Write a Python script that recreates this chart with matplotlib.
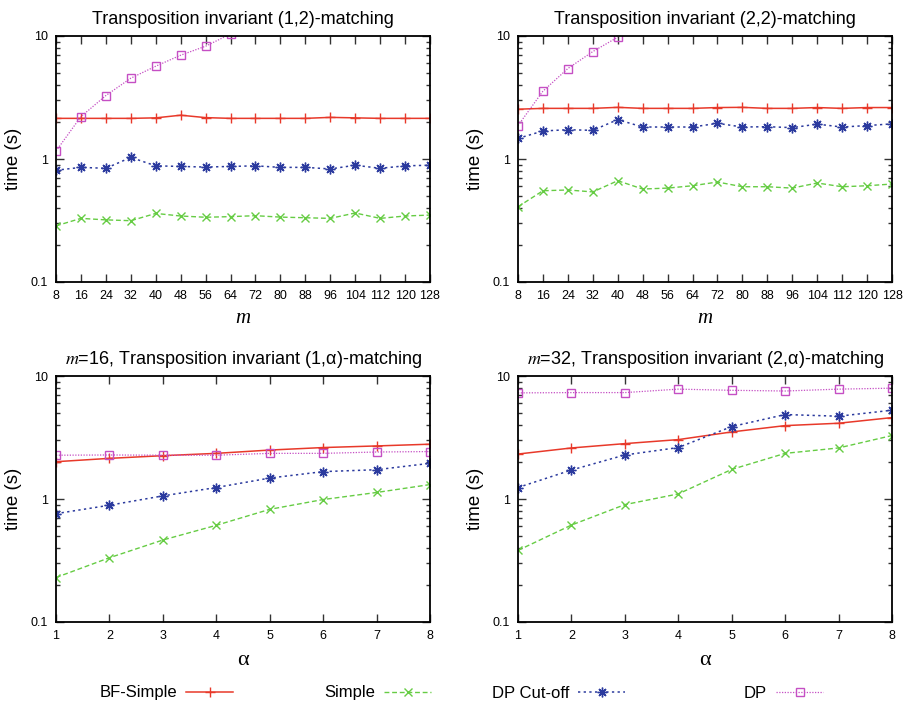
import matplotlib
matplotlib.use("Agg")
import matplotlib.pyplot as plt
from matplotlib.lines import Line2D
from matplotlib.ticker import LogLocator, NullFormatter, FixedLocator, FixedFormatter

plt.rcParams['font.family'] = ['Liberation Sans', 'DejaVu Sans']
plt.rcParams['mathtext.fontset'] = 'stix'

# ---------------- data ----------------
m_values = [8, 16, 24, 32, 40, 48, 56, 64, 72, 80, 88, 96, 104, 112, 120, 128]
alpha_values = [1, 2, 3, 4, 5, 6, 7, 8]

# (1,2)-matching vs m
tl_bf = [2.14, 2.14, 2.14, 2.14, 2.16, 2.27, 2.17, 2.14, 2.14, 2.14, 2.14, 2.18, 2.16, 2.14, 2.14, 2.14]
tl_simple = [0.286, 0.329, 0.32, 0.315, 0.361, 0.344, 0.336, 0.34, 0.346, 0.337, 0.333, 0.329, 0.364, 0.329, 0.344, 0.35]
tl_dpcut = [0.81, 0.855, 0.84, 1.03, 0.88, 0.87, 0.86, 0.87, 0.88, 0.855, 0.855, 0.83, 0.89, 0.84, 0.88, 0.89]
tl_dp_m = [8, 16, 24, 32, 40, 48, 56, 64]
tl_dp = [1.16, 2.21, 3.28, 4.54, 5.68, 6.98, 8.26, 10.4]

# (2,2)-matching vs m
tr_bf = [2.54, 2.58, 2.58, 2.58, 2.63, 2.58, 2.58, 2.58, 2.62, 2.63, 2.58, 2.58, 2.62, 2.58, 2.62, 2.62]
tr_simple = [0.409, 0.552, 0.56, 0.54, 0.666, 0.57, 0.58, 0.606, 0.65, 0.595, 0.595, 0.58, 0.638, 0.595, 0.606, 0.626]
tr_dpcut = [1.47, 1.69, 1.73, 1.71, 2.09, 1.82, 1.82, 1.82, 1.95, 1.82, 1.83, 1.80, 1.92, 1.82, 1.87, 1.93]
tr_dp_m = [8, 16, 24, 32, 40]
tr_dp = [1.87, 3.56, 5.44, 7.47, 9.78]

# m=16, (1,alpha)-matching
bl_bf = [2.01, 2.14, 2.25, 2.35, 2.5, 2.62, 2.7, 2.79]
bl_simple = [0.23, 0.333, 0.464, 0.611, 0.824, 0.99, 1.13, 1.31]
bl_dpcut = [0.76, 0.89, 1.06, 1.24, 1.48, 1.67, 1.73, 1.95]
bl_dp = [2.27, 2.28, 2.27, 2.27, 2.35, 2.35, 2.41, 2.43]

# m=32, (2,alpha)-matching
br_bf = [2.32, 2.6, 2.82, 3.04, 3.51, 3.95, 4.13, 4.59]
br_simple = [0.382, 0.614, 0.9, 1.1, 1.74, 2.35, 2.6, 3.28]
br_dpcut = [1.24, 1.72, 2.28, 2.62, 3.88, 4.86, 4.71, 5.27]
br_dp = [7.29, 7.33, 7.33, 7.82, 7.65, 7.55, 7.82, 7.96]

series_names = ['BF-Simple', 'Simple', 'DP Cut-off', 'DP']
ytick_vals = [0.1, 1, 10]
ytick_labels = ['0.1', '1', '10']

# ---------------- styles ----------------
C_RED = '#e8392a'
C_GREEN = '#66cc44'
C_BLUE = '#2b3a9e'
C_MAG = '#c54fc4'
styles = {
    'BF-Simple': dict(color=C_RED, ls='-', marker='+', ms=7, mew=1.0, lw=1.1),
    'Simple': dict(color=C_GREEN, ls=(0, (3.5, 2)), marker='x', ms=5.5, mew=1.0, lw=1.0),
    'DP Cut-off': dict(color=C_BLUE, ls=(0, (1.5, 2.2)), marker=(8, 2, 0), ms=7, mew=1.0, lw=1.1),
    'DP': dict(color=C_MAG, ls=(0, (1, 1.2)), marker='s', ms=6, mew=1.0, lw=0.9,
               mfc='none'),
}

W, H = 909, 705
fig = plt.figure(figsize=(W / 100, H / 100), dpi=100)

def ax_rect(x0, y0, x1, y1):
    return [x0 / W, 1 - y1 / H, (x1 - x0) / W, (y1 - y0) / H]

axes = [
    fig.add_axes(ax_rect(56, 36, 430, 282)),
    fig.add_axes(ax_rect(518, 36, 892, 282)),
    fig.add_axes(ax_rect(56, 376, 430, 622)),
    fig.add_axes(ax_rect(518, 376, 892, 622)),
]

panels = [
    (m_values, [tl_bf, tl_simple, tl_dpcut], tl_dp_m, tl_dp,
     'Transposition invariant (1,2)-matching', 'm'),
    (m_values, [tr_bf, tr_simple, tr_dpcut], tr_dp_m, tr_dp,
     'Transposition invariant (2,2)-matching', 'm'),
    (alpha_values, [bl_bf, bl_simple, bl_dpcut], alpha_values, bl_dp,
     '$m$=16, Transposition invariant (1,α)-matching', 'α'),
    (alpha_values, [br_bf, br_simple, br_dpcut], alpha_values, br_dp,
     '$m$=32, Transposition invariant (2,α)-matching', 'α'),
]

for ax, (xs, ys3, dpx, dpy, title, xlab) in zip(axes, panels):
    for name, ys in zip(series_names[:3], ys3):
        ax.plot(xs, ys, **styles[name])
    ax.plot(dpx, dpy, **styles['DP'])
    ax.set_yscale('log')
    ax.set_ylim(0.1, 10)
    ax.set_xlim(xs[0], xs[-1])
    ax.set_xticks(xs)
    ax.set_xticklabels([str(v) for v in xs])
    ax.yaxis.set_major_locator(FixedLocator(ytick_vals))
    ax.yaxis.set_major_formatter(FixedFormatter(ytick_labels))
    ax.yaxis.set_minor_locator(LogLocator(base=10, subs=range(2, 10)))
    ax.yaxis.set_minor_formatter(NullFormatter())
    ax.tick_params(axis='both', which='major', direction='in', length=6, width=1.0,
                   top=True, right=True, labelsize=9, color='#333333', pad=6)
    ax.tick_params(axis='y', which='minor', direction='in', length=3, width=1.0,
                   right=True, color='#333333')
    ax.tick_params(axis='y', which='major', pad=6)
    for sp in ax.spines.values():
        sp.set_linewidth(1.3)
    ax.set_title(title, fontsize=13, pad=9)
    ax.set_ylabel('time (s)', fontsize=13.5, labelpad=6)
    if xlab == 'm':
        ax.set_xlabel('m', fontsize=15, family='Liberation Serif', style='italic', labelpad=5)
    else:
        ax.set_xlabel('α', fontsize=16, family='Liberation Serif', labelpad=6)

# legend: one entry per legend, text right-aligned before handle (gnuplot style)
leg_right = [233, 431, 625, 823]
for name, xr in zip(series_names, leg_right):
    h = Line2D([], [], **styles[name])
    fig.legend(handles=[h], labels=[name], loc='center right',
               bbox_to_anchor=(xr / W, 1 - 693 / H), frameon=False,
               markerfirst=False, fontsize=12, handlelength=2.8,
               handletextpad=0.55, borderpad=0, borderaxespad=0)

fig.savefig('out.png', dpi=100)
